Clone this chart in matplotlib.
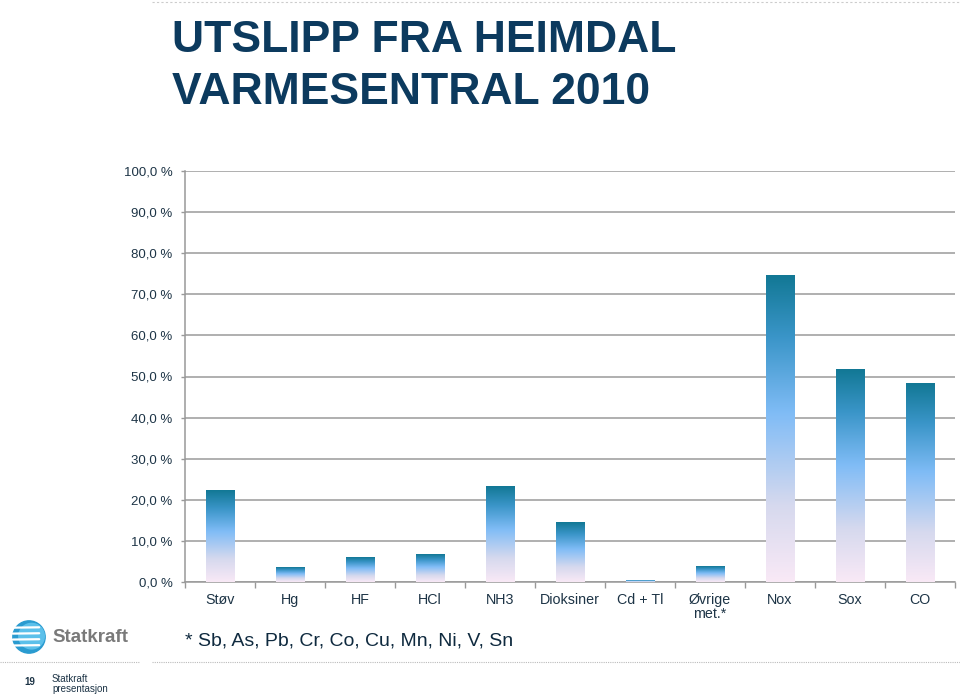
import matplotlib
matplotlib.use("Agg")
import matplotlib.pyplot as plt
import numpy as np
from matplotlib.colors import LinearSegmentedColormap
from matplotlib.patches import Circle

categories = ["Støv", "Hg", "HF", "HCl", "NH3", "Dioksiner", "Cd + Tl", "Øvrige\nmet.*", "Nox", "Sox", "CO"]
values = [22.2, 3.6, 5.9, 6.6, 23.2, 14.4, 0.4, 3.7, 74.6, 51.7, 48.4]
yticks = [0, 10, 20, 30, 40, 50, 60, 70, 80, 90, 100]
ytick_labels = ["0,0 %", "10,0 %", "20,0 %", "30,0 %", "40,0 %", "50,0 %",
                "60,0 %", "70,0 %", "80,0 %", "90,0 %", "100,0 %"]
title_lines = ["UTSLIPP FRA HEIMDAL", "VARMESENTRAL 2010"]

plt.rcParams['font.family'] = ['Liberation Sans', 'DejaVu Sans']

W, H = 960, 699
fig = plt.figure(figsize=(W / 100, H / 100), dpi=100)
fig.patch.set_facecolor("white")

ax = fig.add_axes([185 / W, 1 - 582 / H, 770 / W, 411 / H])
n = len(categories)
x = np.arange(n)
bw = 0.41

cmap = LinearSegmentedColormap.from_list(
    "bargrad", [(0.0, "#f9e9f6"), (0.25, "#d6d9ee"), (0.55, "#80bcf6"), (0.8, "#3a95c8"), (1.0, "#127895")])
grad = np.linspace(0, 1, 256).reshape(-1, 1)

for xi, v in zip(x, values):
    ax.imshow(grad, cmap=cmap, origin="lower", aspect="auto",
              extent=(xi - bw / 2, xi + bw / 2, 0, v), zorder=3, interpolation="bilinear")

ax.set_xlim(-0.5, n - 0.5)
ax.set_ylim(0, 100)
ax.set_yticks(yticks)
ax.set_yticklabels(ytick_labels, fontsize=9.5, color="#1d3446")
ax.set_xticks(x)
ax.set_xticklabels(categories, fontsize=10.3, color="#1d3446", linespacing=1.0)
ax.set_xticks(np.arange(-0.5, n, 1.0), minor=True)
ax.tick_params(axis="x", which="major", length=0, pad=8)
ax.tick_params(axis="x", which="minor", length=4, color="#999999", width=1)
ax.tick_params(axis="y", length=3, color="#999999", width=1, pad=6)
ax.grid(axis="y", color="#9a9a9a", lw=1.1, zorder=1)
ax.set_axisbelow(True)
for s in ["top", "right"]:
    ax.spines[s].set_visible(False)
ax.spines["left"].set_color("#999999")
ax.spines["bottom"].set_color("#999999")
ax.spines["left"].set_linewidth(1.1)
ax.spines["bottom"].set_linewidth(1.1)

# Title
for line, yb in zip(title_lines, [52, 104]):
    fig.text(172 / W, 1 - yb / H, line, fontsize=32, fontweight="bold",
             color="#0c3a5e", va="baseline", ha="left")

# Footnote
fig.text(185 / W, 1 - 641 / H, "* Sb, As, Pb, Cr, Co, Cu, Mn, Ni, V, Sn", fontsize=14,
         color="#0f2a3f", va="center", ha="left")

# Dotted separator lines
fig.add_artist(plt.Line2D([0, 140 / W], [1 - 662 / H] * 2, color="#bbbbbb", lw=0.8, ls=(0, (1, 1))))
fig.add_artist(plt.Line2D([152 / W, 1], [1 - 662 / H] * 2, color="#bbbbbb", lw=0.8, ls=(0, (1, 1))))
fig.add_artist(plt.Line2D([152 / W, 1], [1 - 2 / H] * 2, color="#cccccc", lw=0.8, ls=(0, (2, 2))))

# Logo
lax = fig.add_axes([12 / W, 1 - 654 / H, 34 / W, 34 / H])
lax.set_xlim(-1, 1)
lax.set_ylim(-1, 1)
lax.set_aspect("equal")
lax.axis("off")
lax.add_patch(Circle((0, 0), 0.95, color="#2a9bd0"))
lax.add_patch(Circle((0.15, 0.05), 0.75, color="#5cc0ea"))
for yy in [-0.5, -0.15, 0.2, 0.55]:
    lax.plot([-0.95, 0.6], [yy, yy + 0.02], color="white", lw=1.6, solid_capstyle="round")
fig.text(52 / W, 1 - 637 / H, "Statkraft", fontsize=13.5, fontweight="bold", color="#7a7a7a",
         va="center", ha="left")

# Footer
fig.text(24 / W, 1 - 682 / H, "19", fontsize=7, fontweight="bold", color="#1d3446", va="center", ha="left")
fig.text(52 / W, 1 - 684 / H, "Statkraft\npresentasjon", fontsize=7, color="#1d3446", va="center",
         ha="left", linespacing=1.1)

fig.savefig("out.png", dpi=100, facecolor="white")
